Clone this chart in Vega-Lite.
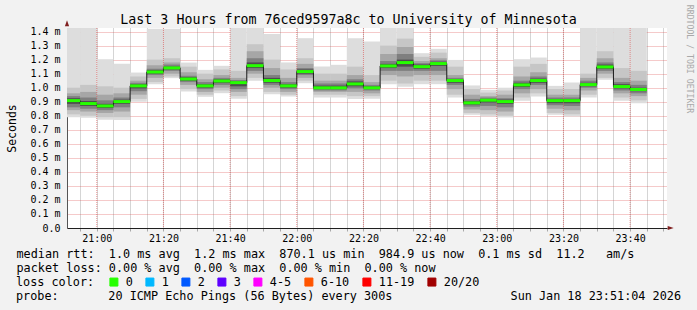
{
  "$schema": "https://vega.github.io/schema/vega-lite/v6.json",
  "width": 600,
  "height": 200,
  "autosize": {"type": "none"},
  "padding": {"left": 67, "top": 28, "right": 30, "bottom": 82},
  "background": "#f2f2f2",
  "config": {
    "view": {"stroke": null, "fill": "white"},
    "font": "DejaVu Sans Mono",
    "axis": {"labelFont": "DejaVu Sans Mono", "titleFont": "DejaVu Sans Mono", "labelColor": "black", "titleColor": "black", "titleFontWeight": "normal"},
    "legend": {"labelFont": "DejaVu Sans Mono", "labelColor": "black", "titleFont": "DejaVu Sans Mono", "titleColor": "black", "titleFontWeight": "normal"}
  },
  "title": {
    "text": "Last 3 Hours from 76ced9597a8c to University of Minnesota",
    "font": "DejaVu Sans Mono", "fontSize": 13.3, "fontWeight": "normal", "color": "black",
    "anchor": "middle", "frame": "group", "dx": -18.5, "baseline": "alphabetic", "offset": -33
  },
  "data": {"values": [
    {"t":"2026-01-18T20:50","e":"2026-01-18T20:55","m":0.908,"a0":0.79,"a1":1.45,"b0":0.81,"b1":1.0,"c0":0.84,"c1":0.96,"d0":0.86,"d1":0.94,"f0":0.885,"f1":0.925},
    {"t":"2026-01-18T20:55","e":"2026-01-18T21:00","m":0.887,"a0":0.785,"a1":1.45,"b0":0.8,"b1":1.02,"c0":0.83,"c1":0.97,"d0":0.85,"d1":0.93,"f0":0.87,"f1":0.905},
    {"t":"2026-01-18T21:00","e":"2026-01-18T21:05","m":0.870,"a0":0.771,"a1":1.203,"b0":0.79,"b1":1.01,"c0":0.82,"c1":0.95,"d0":0.84,"d1":0.91,"f0":0.855,"f1":0.885},
    {"t":"2026-01-18T21:05","e":"2026-01-18T21:10","m":0.901,"a0":0.77,"a1":1.17,"b0":0.79,"b1":1.0,"c0":0.83,"c1":0.96,"d0":0.86,"d1":0.93,"f0":0.885,"f1":0.915},
    {"t":"2026-01-18T21:10","e":"2026-01-18T21:15","m":1.013,"a0":0.90,"a1":1.108,"b0":0.92,"b1":1.08,"c0":0.95,"c1":1.05,"d0":0.975,"d1":1.035,"f0":0.995,"f1":1.025},
    {"t":"2026-01-18T21:15","e":"2026-01-18T21:20","m":1.112,"a0":1.025,"a1":1.42,"b0":1.04,"b1":1.2,"c0":1.07,"c1":1.16,"d0":1.09,"d1":1.135,"f0":1.1,"f1":1.125},
    {"t":"2026-01-18T21:20","e":"2026-01-18T21:25","m":1.141,"a0":1.068,"a1":1.42,"b0":1.08,"b1":1.21,"c0":1.1,"c1":1.18,"d0":1.12,"d1":1.165,"f0":1.13,"f1":1.15},
    {"t":"2026-01-18T21:25","e":"2026-01-18T21:30","m":1.062,"a0":0.973,"a1":1.179,"b0":0.99,"b1":1.15,"c0":1.02,"c1":1.11,"d0":1.04,"d1":1.085,"f0":1.05,"f1":1.075},
    {"t":"2026-01-18T21:30","e":"2026-01-18T21:35","m":1.013,"a0":0.935,"a1":1.127,"b0":0.95,"b1":1.1,"c0":0.97,"c1":1.06,"d0":0.99,"d1":1.04,"f0":1.0,"f1":1.025},
    {"t":"2026-01-18T21:35","e":"2026-01-18T21:40","m":1.048,"a0":0.961,"a1":1.156,"b0":0.98,"b1":1.13,"c0":1.0,"c1":1.09,"d0":1.02,"d1":1.07,"f0":1.035,"f1":1.06},
    {"t":"2026-01-18T21:40","e":"2026-01-18T21:45","m":1.036,"a0":0.921,"a1":1.45,"b0":0.94,"b1":1.12,"c0":0.97,"c1":1.07,"d0":0.99,"d1":1.055,"f0":1.01,"f1":1.045},
    {"t":"2026-01-18T21:45","e":"2026-01-18T21:50","m":1.157,"a0":1.049,"a1":1.45,"b0":1.07,"b1":1.31,"c0":1.1,"c1":1.26,"d0":1.12,"d1":1.21,"f0":1.14,"f1":1.18},
    {"t":"2026-01-18T21:50","e":"2026-01-18T21:55","m":1.051,"a0":0.954,"a1":1.383,"b0":0.97,"b1":1.2,"c0":1.0,"c1":1.14,"d0":1.02,"d1":1.09,"f0":1.035,"f1":1.07},
    {"t":"2026-01-18T21:55","e":"2026-01-18T22:00","m":1.013,"a0":0.937,"a1":1.18,"b0":0.95,"b1":1.13,"c0":0.97,"c1":1.07,"d0":0.99,"d1":1.04,"f0":1.0,"f1":1.025},
    {"t":"2026-01-18T22:00","e":"2026-01-18T22:05","m":1.115,"a0":1.032,"a1":1.353,"b0":1.05,"b1":1.21,"c0":1.07,"c1":1.17,"d0":1.09,"d1":1.14,"f0":1.1,"f1":1.13},
    {"t":"2026-01-18T22:05","e":"2026-01-18T22:10","m":0.999,"a0":0.93,"a1":1.151,"b0":0.95,"b1":1.1,"c0":0.97,"c1":1.05,"d0":0.98,"d1":1.03,"f0":0.99,"f1":1.015},
    {"t":"2026-01-18T22:10","e":"2026-01-18T22:15","m":0.999,"a0":0.93,"a1":1.163,"b0":0.95,"b1":1.1,"c0":0.97,"c1":1.05,"d0":0.98,"d1":1.03,"f0":0.99,"f1":1.015},
    {"t":"2026-01-18T22:15","e":"2026-01-18T22:20","m":1.027,"a0":0.92,"a1":1.353,"b0":0.94,"b1":1.15,"c0":0.97,"c1":1.09,"d0":0.995,"d1":1.06,"f0":1.01,"f1":1.045},
    {"t":"2026-01-18T22:20","e":"2026-01-18T22:25","m":0.999,"a0":0.921,"a1":1.329,"b0":0.94,"b1":1.09,"c0":0.96,"c1":1.04,"d0":0.98,"d1":1.02,"f0":0.99,"f1":1.01},
    {"t":"2026-01-18T22:25","e":"2026-01-18T22:30","m":1.155,"a0":1.025,"a1":1.45,"b0":1.05,"b1":1.3,"c0":1.09,"c1":1.24,"d0":1.12,"d1":1.19,"f0":1.14,"f1":1.17},
    {"t":"2026-01-18T22:30","e":"2026-01-18T22:35","m":1.179,"a0":1.006,"a1":1.45,"b0":1.03,"b1":1.35,"c0":1.08,"c1":1.29,"d0":1.12,"d1":1.24,"f0":1.15,"f1":1.2},
    {"t":"2026-01-18T22:35","e":"2026-01-18T22:40","m":1.150,"a0":1.025,"a1":1.246,"b0":1.05,"b1":1.22,"c0":1.09,"c1":1.19,"d0":1.12,"d1":1.175,"f0":1.135,"f1":1.165},
    {"t":"2026-01-18T22:40","e":"2026-01-18T22:45","m":1.172,"a0":1.025,"a1":1.277,"b0":1.05,"b1":1.25,"c0":1.09,"c1":1.21,"d0":1.12,"d1":1.195,"f0":1.155,"f1":1.185},
    {"t":"2026-01-18T22:45","e":"2026-01-18T22:50","m":1.051,"a0":0.93,"a1":1.198,"b0":0.95,"b1":1.15,"c0":0.99,"c1":1.09,"d0":1.02,"d1":1.07,"f0":1.035,"f1":1.06},
    {"t":"2026-01-18T22:50","e":"2026-01-18T22:55","m":0.892,"a0":0.807,"a1":1.016,"b0":0.82,"b1":0.99,"c0":0.845,"c1":0.95,"d0":0.865,"d1":0.92,"f0":0.88,"f1":0.905},
    {"t":"2026-01-18T22:55","e":"2026-01-18T23:00","m":0.911,"a0":0.795,"a1":0.985,"b0":0.81,"b1":0.965,"c0":0.84,"c1":0.94,"d0":0.87,"d1":0.93,"f0":0.895,"f1":0.92},
    {"t":"2026-01-18T23:00","e":"2026-01-18T23:05","m":0.901,"a0":0.788,"a1":1.0,"b0":0.8,"b1":0.98,"c0":0.83,"c1":0.95,"d0":0.86,"d1":0.925,"f0":0.885,"f1":0.915},
    {"t":"2026-01-18T23:05","e":"2026-01-18T23:10","m":1.020,"a0":0.907,"a1":1.203,"b0":0.93,"b1":1.15,"c0":0.96,"c1":1.08,"d0":0.99,"d1":1.05,"f0":1.005,"f1":1.035},
    {"t":"2026-01-18T23:10","e":"2026-01-18T23:15","m":1.051,"a0":0.937,"a1":1.215,"b0":0.96,"b1":1.17,"c0":0.99,"c1":1.11,"d0":1.02,"d1":1.08,"f0":1.035,"f1":1.065},
    {"t":"2026-01-18T23:15","e":"2026-01-18T23:20","m":0.908,"a0":0.807,"a1":1.013,"b0":0.82,"b1":0.99,"c0":0.85,"c1":0.95,"d0":0.875,"d1":0.93,"f0":0.89,"f1":0.92},
    {"t":"2026-01-18T23:20","e":"2026-01-18T23:25","m":0.908,"a0":0.795,"a1":1.037,"b0":0.81,"b1":0.99,"c0":0.84,"c1":0.95,"d0":0.87,"d1":0.93,"f0":0.89,"f1":0.92},
    {"t":"2026-01-18T23:25","e":"2026-01-18T23:30","m":1.022,"a0":0.93,"a1":1.45,"b0":0.95,"b1":1.1,"c0":0.98,"c1":1.07,"d0":1.0,"d1":1.05,"f0":1.01,"f1":1.035},
    {"t":"2026-01-18T23:30","e":"2026-01-18T23:35","m":1.148,"a0":1.056,"a1":1.45,"b0":1.07,"b1":1.26,"c0":1.1,"c1":1.21,"d0":1.12,"d1":1.18,"f0":1.135,"f1":1.165},
    {"t":"2026-01-18T23:35","e":"2026-01-18T23:40","m":1.008,"a0":0.907,"a1":1.45,"b0":0.93,"b1":1.14,"c0":0.96,"c1":1.07,"d0":0.98,"d1":1.04,"f0":0.995,"f1":1.025},
    {"t":"2026-01-18T23:40","e":"2026-01-18T23:45","m":0.987,"a0":0.89,"a1":1.45,"b0":0.91,"b1":1.12,"c0":0.94,"c1":1.05,"d0":0.96,"d1":1.02,"f0":0.975,"f1":1.0}
  ]},
  "layer": [
    {
      "mark": {"type": "rect", "clip": true, "color": "#dddddd"},
      "encoding": {
        "x": {
          "field": "t", "type": "temporal",
          "scale": {"domain": [
            {"year": 2026, "month": 1, "date": 18, "hours": 20, "minutes": 51, "seconds": 4},
            {"year": 2026, "month": 1, "date": 18, "hours": 23, "minutes": 51, "seconds": 4}
          ]},
          "axis": {
            "title": [
              "median rtt:\u00a0 1.0 ms avg\u00a0 1.2 ms max\u00a0 870.1 us min\u00a0 984.9 us now\u00a0 0.1 ms sd\u00a0 11.2\u00a0\u00a0 am/s",
              "packet loss: 0.00 % avg\u00a0 0.00 % max\u00a0 0.00 % min\u00a0 0.00 % now"
            ],
            "titleFontSize": 11.8, "titleLineHeight": 14, "titleAnchor": "start", "titleAlign": "left",
            "titleBaseline": "alphabetic", "titleX": -51, "titleY": 29.5,
            "tickCount": 60,
            "values": [
              {"year": 2026, "month": 1, "date": 18, "hours": 20, "minutes": 55},
              {"year": 2026, "month": 1, "date": 18, "hours": 21, "minutes": 0},
              {"year": 2026, "month": 1, "date": 18, "hours": 21, "minutes": 5},
              {"year": 2026, "month": 1, "date": 18, "hours": 21, "minutes": 10},
              {"year": 2026, "month": 1, "date": 18, "hours": 21, "minutes": 15},
              {"year": 2026, "month": 1, "date": 18, "hours": 21, "minutes": 20},
              {"year": 2026, "month": 1, "date": 18, "hours": 21, "minutes": 25},
              {"year": 2026, "month": 1, "date": 18, "hours": 21, "minutes": 30},
              {"year": 2026, "month": 1, "date": 18, "hours": 21, "minutes": 35},
              {"year": 2026, "month": 1, "date": 18, "hours": 21, "minutes": 40},
              {"year": 2026, "month": 1, "date": 18, "hours": 21, "minutes": 45},
              {"year": 2026, "month": 1, "date": 18, "hours": 21, "minutes": 50},
              {"year": 2026, "month": 1, "date": 18, "hours": 21, "minutes": 55},
              {"year": 2026, "month": 1, "date": 18, "hours": 22, "minutes": 0},
              {"year": 2026, "month": 1, "date": 18, "hours": 22, "minutes": 5},
              {"year": 2026, "month": 1, "date": 18, "hours": 22, "minutes": 10},
              {"year": 2026, "month": 1, "date": 18, "hours": 22, "minutes": 15},
              {"year": 2026, "month": 1, "date": 18, "hours": 22, "minutes": 20},
              {"year": 2026, "month": 1, "date": 18, "hours": 22, "minutes": 25},
              {"year": 2026, "month": 1, "date": 18, "hours": 22, "minutes": 30},
              {"year": 2026, "month": 1, "date": 18, "hours": 22, "minutes": 35},
              {"year": 2026, "month": 1, "date": 18, "hours": 22, "minutes": 40},
              {"year": 2026, "month": 1, "date": 18, "hours": 22, "minutes": 45},
              {"year": 2026, "month": 1, "date": 18, "hours": 22, "minutes": 50},
              {"year": 2026, "month": 1, "date": 18, "hours": 22, "minutes": 55},
              {"year": 2026, "month": 1, "date": 18, "hours": 23, "minutes": 0},
              {"year": 2026, "month": 1, "date": 18, "hours": 23, "minutes": 5},
              {"year": 2026, "month": 1, "date": 18, "hours": 23, "minutes": 10},
              {"year": 2026, "month": 1, "date": 18, "hours": 23, "minutes": 15},
              {"year": 2026, "month": 1, "date": 18, "hours": 23, "minutes": 20},
              {"year": 2026, "month": 1, "date": 18, "hours": 23, "minutes": 25},
              {"year": 2026, "month": 1, "date": 18, "hours": 23, "minutes": 30},
              {"year": 2026, "month": 1, "date": 18, "hours": 23, "minutes": 35},
              {"year": 2026, "month": 1, "date": 18, "hours": 23, "minutes": 40},
              {"year": 2026, "month": 1, "date": 18, "hours": 23, "minutes": 45},
              {"year": 2026, "month": 1, "date": 18, "hours": 23, "minutes": 50}
            ],
            "format": "%H:%M",
            "labelExpr": "substring(datum.label, 3) == '00' || substring(datum.label, 3) == '20' || substring(datum.label, 3) == '40' ? datum.label : ''",
            "labelFontSize": 10, "labelOverlap": false, "labelFlush": false, "labelPadding": 2,
            "ticks": true, "tickSize": 3, "tickColor": "rgba(143,143,143,0.75)",
            "grid": true, "gridColor": "rgba(143,143,143,0.75)", "gridDash": [1, 1], "gridWidth": 1,
            "domainColor": "#1f1f1f", "domainWidth": 1
          }
        },
        "x2": {"field": "e"},
        "y": {
          "field": "a0", "type": "quantitative",
          "scale": {"domain": [0, 1.4255], "nice": false, "zero": false},
          "axis": {
            "orient": "left",
            "tickCount": 30,
            "values": [0, 0.1, 0.2, 0.3, 0.4, 0.5, 0.6, 0.7, 0.8, 0.9, 1.0, 1.1, 1.2, 1.3, 1.4],
            "labelExpr": "datum.value == 0 ? '0.0' : format(datum.value, '.1f') + ' m'",
            "labelFontSize": 10, "labelPadding": 7, "ticks": false, "labelOverlap": false, "labelFlush": false,
            "grid": true, "gridColor": "rgba(222,79,79,0.6)", "gridDash": [1, 1], "gridWidth": 1,
            "domainColor": "#555555", "domainWidth": 1,
            "title": "Seconds", "titleFontSize": 11.5, "titleAngle": 270,
            "titleX": -52, "titleY": 100, "titleAlign": "center", "titleBaseline": "alphabetic"
          }
        },
        "y2": {"field": "a1"}
      }
    },
    {
      "mark": {"type": "rect", "clip": true, "color": "#c6c6c6"},
      "encoding": {
        "x": {"field": "t", "type": "temporal"}, "x2": {"field": "e"},
        "y": {"field": "b0", "type": "quantitative"}, "y2": {"field": "b1"}
      }
    },
    {
      "mark": {"type": "rect", "clip": true, "color": "#a6a6a6"},
      "encoding": {
        "x": {"field": "t", "type": "temporal"}, "x2": {"field": "e"},
        "y": {"field": "c0", "type": "quantitative"}, "y2": {"field": "c1"}
      }
    },
    {
      "mark": {"type": "rect", "clip": true, "color": "#7f7f7f"},
      "encoding": {
        "x": {"field": "t", "type": "temporal"}, "x2": {"field": "e"},
        "y": {"field": "d0", "type": "quantitative"}, "y2": {"field": "d1"}
      }
    },
    {
      "mark": {"type": "rect", "clip": true, "color": "#4d4d4d"},
      "encoding": {
        "x": {"field": "t", "type": "temporal"}, "x2": {"field": "e"},
        "y": {"field": "f0", "type": "quantitative"}, "y2": {"field": "f1"}
      }
    },
    {
      "data": {"values": [
        {"g": "2026-01-18T21:00"}, {"g": "2026-01-18T21:20"}, {"g": "2026-01-18T21:40"},
        {"g": "2026-01-18T22:00"}, {"g": "2026-01-18T22:20"}, {"g": "2026-01-18T22:40"},
        {"g": "2026-01-18T23:00"}, {"g": "2026-01-18T23:20"}, {"g": "2026-01-18T23:40"}
      ]},
      "mark": {"type": "rule", "color": "rgba(222,79,79,0.6)", "strokeDash": [1, 1], "strokeWidth": 1},
      "encoding": {
        "x": {"field": "g", "type": "temporal"}
      }
    },
    {
      "mark": {"type": "line", "interpolate": "step-after", "clip": true, "color": "#1a1a1a", "strokeWidth": 1},
      "encoding": {
        "x": {"field": "t", "type": "temporal"},
        "y": {"field": "m", "type": "quantitative"}
      }
    },
    {
      "mark": {"type": "rule", "clip": true, "strokeWidth": 3, "strokeCap": "butt"},
      "encoding": {
        "x": {"field": "t", "type": "temporal"},
        "x2": {"field": "e"},
        "y": {"field": "m", "type": "quantitative"},
        "color": {
          "datum": "0", "type": "nominal",
          "scale": {
            "domain": ["0", "1", "2", "3", "4-5", "6-10", "11-19", "20/20"],
            "range": ["#26ff00", "#00b8ff", "#0059ff", "#5e00ff", "#ff00ff", "#ff5500", "#ff0000", "#a10000"]
          },
          "legend": {
            "title": "loss color:", "titleOrient": "left", "titleFontSize": 11.8, "titlePadding": 13,
            "titleAnchor": "middle", "titleBaseline": "middle", "titleAngle": 0, "titleAlign": "left",
            "orient": "none", "legendX": -51, "legendY": 248,
            "direction": "horizontal", "padding": 0, "offset": 0,
            "symbolType": "square", "symbolSize": 64, "symbolStrokeWidth": 1, "symbolStrokeColor": "black",
            "labelFontSize": 11.8, "labelOffset": 6, "columnPadding": 10,
            "encode": {"symbols": {"update": {"fill": {"scale": "color", "field": "value"}, "stroke": {"value": "black"}, "strokeWidth": {"value": 1}, "opacity": {"value": 1}, "fillOpacity": {"value": 1}}}}
          }
        }
      }
    },
    {
      "data": {"values": [{"t": "2026-01-18T23:52:10", "m": 0}]},
      "mark": {"type": "point", "shape": "M-1,-0.7L1,0L-1,0.7Z", "filled": true, "color": "#801f1f", "size": 36, "opacity": 1},
      "encoding": {
        "x": {"field": "t", "type": "temporal"},
        "y": {"field": "m", "type": "quantitative"}
      }
    },
    {
      "data": {"values": [{"t": "2026-01-18T20:51:04", "m": 1.46}]},
      "mark": {"type": "point", "shape": "M-0.7,1L0,-1L0.7,1Z", "filled": true, "color": "#801f1f", "size": 36, "opacity": 1},
      "encoding": {
        "x": {"field": "t", "type": "temporal"},
        "y": {"field": "m", "type": "quantitative"}
      }
    },
    {
      "data": {"values": [{"t": "2026-01-18T23:57:31", "m": 1.2045, "label": "RRDTOOL / TOBI OETIKER"}]},
      "mark": {"type": "text", "angle": 90, "font": "DejaVu Sans Mono", "fontSize": 8.2, "color": "#a9a9a9", "align": "center", "baseline": "middle"},
      "encoding": {
        "x": {"field": "t", "type": "temporal"},
        "y": {"field": "m", "type": "quantitative"},
        "text": {"field": "label"}
      }
    },
    {
      "data": {"values": [{"t": "2026-01-18T20:35:46", "m": -0.51, "label": "probe:\u00a0\u00a0\u00a0\u00a0\u00a0\u00a0 20 ICMP Echo Pings (56 Bytes) every 300s"}]},
      "mark": {"type": "text", "font": "DejaVu Sans Mono", "fontSize": 11.8, "color": "black", "baseline": "alphabetic", "align": "left"},
      "encoding": {
        "x": {"field": "t", "type": "temporal"},
        "y": {"field": "m", "type": "quantitative"},
        "text": {"field": "label"}
      }
    },
    {
      "data": {"values": [{"t": "2026-01-18T23:55:16", "m": -0.51, "label": "Sun Jan 18 23:51:04 2026"}]},
      "mark": {"type": "text", "font": "DejaVu Sans Mono", "fontSize": 11.8, "color": "black", "baseline": "alphabetic", "align": "right"},
      "encoding": {
        "x": {"field": "t", "type": "temporal"},
        "y": {"field": "m", "type": "quantitative"},
        "text": {"field": "label"}
      }
    }
  ]
}
